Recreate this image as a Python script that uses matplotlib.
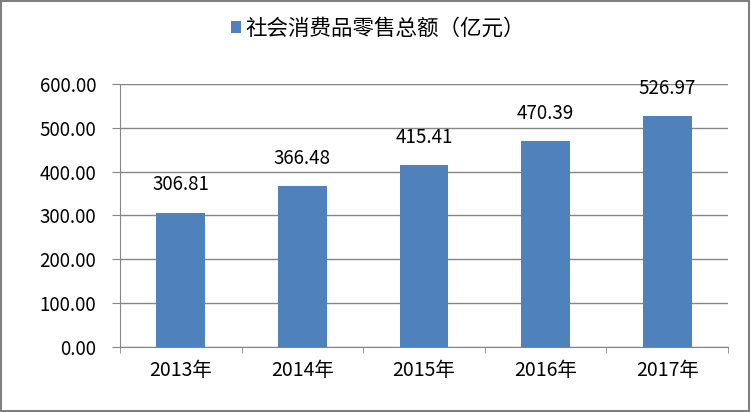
import matplotlib
matplotlib.use('Agg')
import matplotlib.pyplot as plt
from matplotlib.patches import Rectangle

plt.rcParams['font.family'] = ['Noto Sans CJK SC', 'DejaVu Sans']

years = ['2013年', '2014年', '2015年', '2016年', '2017年']
sales = [306.81, 366.48, 415.41, 470.39, 526.97]
series_name = '社会消费品零售总额（亿元）'
yticks = [0, 100, 200, 300, 400, 500, 600]

BAR_COLOR = '#4F81BD'
LINE_COLOR = '#868686'

fig = plt.figure(figsize=(7.51, 4.12), dpi=100)
ax = fig.add_axes([120 / 751, 1 - 347 / 412, 608 / 751, 263 / 412])

x = range(len(years))
bars = ax.bar(x, sales, width=0.4, color=BAR_COLOR, label=series_name, zorder=3)

for i, v in enumerate(sales):
    ax.annotate('%.2f' % v, (i, v), xytext=(0, 20), textcoords='offset points',
                ha='center', va='center', fontsize=13.5)

ax.set_xlim(-0.5, len(years) - 0.5)
ax.set_ylim(0, 600)
ax.set_yticks(yticks)
ax.set_yticklabels(['%.2f' % t for t in yticks], fontsize=13.5)
ax.set_xticks(list(x))
ax.set_xticklabels(years, fontsize=14)
ax.tick_params(axis='x', length=0, pad=9)
ax.tick_params(axis='y', length=6, color=LINE_COLOR, pad=11)

# minor ticks between categories on the x axis
ax.set_xticks([i - 0.5 for i in range(len(years) + 1)], minor=True)
ax.tick_params(axis='x', which='minor', length=4.5, color=LINE_COLOR, direction='out')

ax.yaxis.grid(True, color=LINE_COLOR, linewidth=1)
ax.set_axisbelow(True)
for s in ['top', 'right']:
    ax.spines[s].set_visible(False)
ax.spines['left'].set_color(LINE_COLOR)
ax.spines['bottom'].set_color(LINE_COLOR)

fig.legend(handles=[bars], labels=[series_name], loc='center', bbox_to_anchor=(378 / 751, 1 - 29 / 412),
           frameon=False, fontsize=15.5, handlelength=0.5, handleheight=0.5, handletextpad=0.2)

fig.patches.append(Rectangle((0.001, 0.002), 0.997, 0.995, transform=fig.transFigure,
                             fill=False, edgecolor='#7F7F7F', linewidth=1.5))

fig.savefig('out.png', dpi=100)
